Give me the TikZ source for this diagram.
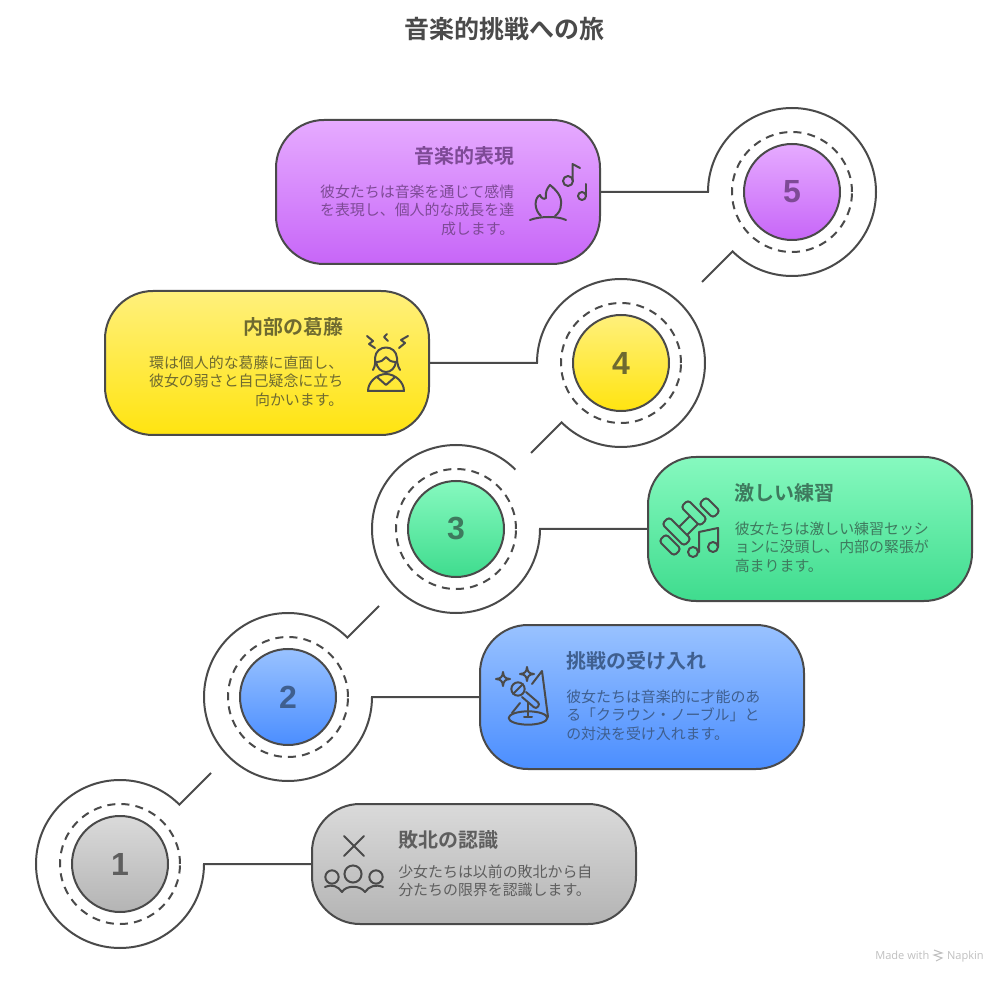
\documentclass[tikz,border=0pt]{standalone}
\usepackage{fontspec}
\setmainfont{Noto Sans CJK JP}[BoldFont={Noto Sans CJK JP Bold}]
\newfontfamily\numfont{Liberation Sans}[BoldFont={Liberation Sans Bold}]
\newfontfamily\napfont{Open Sans}
\definecolor{ink}{HTML}{4A4A4A}
\definecolor{gT}{HTML}{DADADA}\definecolor{gB}{HTML}{B4B4B4}\definecolor{gX}{HTML}{5E5E5E}
\definecolor{bT}{HTML}{99C2FF}\definecolor{bB}{HTML}{4B8EFF}\definecolor{bX}{HTML}{3F5F8F}
\definecolor{tT}{HTML}{86F9BF}\definecolor{tB}{HTML}{3FDC8E}\definecolor{tX}{HTML}{3E7A5E}
\definecolor{yT}{HTML}{FFF07C}\definecolor{yB}{HTML}{FFE410}\definecolor{yX}{HTML}{6E6A30}
\definecolor{pT}{HTML}{E6ABFF}\definecolor{pB}{HTML}{C766F8}\definecolor{pX}{HTML}{7E4A96}
\tikzset{
  x=0.75pt,y=-0.75pt,
  line/.style={draw=ink,line width=1.5pt},
  icon/.style={draw=ink,line width=1.5pt,line cap=round,line join=round},
  card/.style={line,rounded corners=36pt,minimum width=243pt,minimum height=108pt,inner sep=0pt},
  disc/.style={line,circle,minimum size=72pt,inner sep=0pt,font=\numfont\bfseries\fontsize{24}{24}\selectfont},
  ring/.style={line,dashed,dash pattern=on 6pt off 4.6pt,circle,minimum size=90pt,inner sep=0pt},
  ttl/.style={inner sep=0pt,font=\bfseries\fontsize{15}{18}\selectfont},
  body/.style={inner sep=0pt,font=\fontsize{11.2}{13.9}\selectfont},
}
\begin{document}
\begin{tikzpicture}
\useasboundingbox (0,0) rectangle (1008,984);
\node[inner sep=0pt,text=ink,font=\bfseries\fontsize{18.75}{22}\selectfont] (title) at (504.5,29.5) {音楽的挑戦への旅};
% rings
\node[ring] (r1) at (120,864) {};
\node[ring] (r2) at (288,697) {};
\node[ring] (r3) at (456,529) {};
\node[ring] (r4) at (621,363) {};
\node[ring] (r5) at (792,192) {};
% discs
\node[disc,top color=gT,bottom color=gB,text=gX] (c1) at (120,864) {1};
\node[disc,top color=bT,bottom color=bB,text=bX] (c2) at (288,697) {2};
\node[disc,top color=tT,bottom color=tB,text=tX] (c3) at (456,529) {3};
\node[disc,top color=yT,bottom color=yB,text=yX] (c4) at (621,363) {4};
\node[disc,top color=pT,bottom color=pB,text=pX] (c5) at (792,192) {5};
% cards
\node[card,minimum height=90pt,top color=gT,bottom color=gB] (k1) at (474,864) {};
\node[card,top color=bT,bottom color=bB] (k2) at (642,697) {};
\node[card,top color=tT,bottom color=tB] (k3) at (810,529) {};
\node[card,top color=yT,bottom color=yB] (k4) at (267,363) {};
\node[card,top color=pT,bottom color=pB] (k5) at (438,192) {};
% connector corners and free ends
\coordinate (p1) at (204,864); \coordinate (e1) at (211,773);
\coordinate (p2) at (372,697); \coordinate (e2) at (379,606);
\coordinate (p3) at (540,529);
\coordinate (p4) at (537,363); \coordinate (e4) at (531,453);
\coordinate (p5) at (708,192); \coordinate (e5) at (702,282);
\draw[line,line join=miter] (k1.west) -- (p1) arc[start angle=0,end angle=-315,radius=63pt] -- (e1);
\draw[line,line join=miter] (k2.west) -- (p2) arc[start angle=0,end angle=-315,radius=63pt] -- (e2);
\draw[line,line join=miter] (k3.west) -- (p3) arc[start angle=0,end angle=-315,radius=63pt];
\draw[line,line join=miter] (k4.east) -- (p4) arc[start angle=180,end angle=-135,radius=63pt] -- (e4);
\draw[line,line join=miter] (k5.east) -- (p5) arc[start angle=180,end angle=-135,radius=63pt] -- (e5);
% texts
\node[ttl,anchor=west,text=gX] (t1) at (398,840) {敗北の認識};
\node[body,anchor=north west,align=left,text=gX] (b1) at (398,864.5) {少女たちは以前の敗北から自\\分たちの限界を認識します。};
\node[ttl,anchor=west,text=bX] (t2) at (566,661) {挑戦の受け入れ};
\node[body,anchor=north west,align=left,text=bX] (b2) at (566,689.5) {彼女たちは音楽的に才能のあ\\る「クラウン・ノーブル」と\\の対決を受け入れます。};
\node[ttl,anchor=west,text=tX] (t3) at (734.5,493) {激しい練習};
\node[body,anchor=north west,align=left,text=tX] (b3) at (734.5,521.5) {彼女たちは激しい練習セッシ\\ョンに没頭し、内部の緊張が\\高まります。};
\node[ttl,anchor=east,text=yX] (t4) at (343.5,327) {内部の葛藤};
\node[body,anchor=north east,align=right,text=yX] (b4) at (343.5,355.5) {環は個人的な葛藤に直面し、\\彼女の弱さと自己疑念に立ち\\向かいます。};
\node[ttl,anchor=east,text=pX] (t5) at (514.5,156) {音楽的表現};
\node[body,anchor=north east,align=right,text=pX] (b5) at (514.5,184.5) {彼女たちは音楽を通じて感情\\を表現し、個人的な成長を達\\成します。};
% icon 5
\draw[icon] (530,220) .. controls (540,216) and (558,216) .. (566,220);
\draw[icon] (541,216) .. controls (534,210) and (534,198) .. (540,195) .. controls (541,198) and (544,200) .. (546,198) .. controls (545,193) and (547,188) .. (550,185) .. controls (556,190) and (562,196) .. (561,204) .. controls (561,210) and (558,214) .. (555,216);
\draw[icon] (568,181) circle[radius=3.75pt];
\draw[icon] (572.5,181) -- (572.5,164) -- (580,168);
\draw[icon] (582,196) circle[radius=3pt];
\draw[icon] (586,195) -- (586,184);
% icon 4
\draw[icon] (367,336) -- (373,341) -- (369,344) -- (375,348);
\draw[icon] (387,334) -- (384,337) -- (388,341);
\draw[icon] (408,336) -- (401,340) -- (405,343) -- (399,348);
\draw[icon] (373,370) .. controls (376,365) and (375,360) .. (375,358) .. controls (376,344) and (396,344) .. (397,358) .. controls (397,360) and (397,365) .. (400,370);
\draw[icon] (376,362) .. controls (381,362) and (384,360) .. (386,357) .. controls (388,360) and (391,362) .. (396,362);
\draw[icon] (376,362) .. controls (377,368) and (381,372) .. (386,372) .. controls (391,372) and (395,368) .. (396,362);
\draw[icon] (368,391) .. controls (368,382) and (377,374) .. (386,374) .. controls (395,374) and (404,382) .. (404,391) -- cycle;
\draw[icon] (377,377) -- (386,385) -- (395,377);
% icon 3
\draw[icon,rounded corners=2.5pt] (681,507) -- (688,500) -- (707,519) -- (700,526) -- cycle;
\draw[icon,rounded corners=2.5pt] (699,504) -- (706,497) -- (720,511) -- (713,518) -- cycle;
\draw[icon,rounded corners=2.5pt] (662,524) -- (669,517) -- (691,539) -- (684,546) -- cycle;
\draw[icon,rounded corners=2.5pt] (659,541) -- (666,534) -- (681,549) -- (674,556) -- cycle;
\draw[icon] (679,527) -- (690,516);
\draw[icon] (687,535) -- (698,524);
\draw[icon] (693,552) circle[radius=3.75pt];
\draw[icon] (713,547) circle[radius=3.75pt];
\draw[icon] (699,552) -- (699,532) -- (718,528) -- (718,547);
% icon 2
\draw[icon] (503,672) .. controls (503.5,677) and (505,678.5) .. (510,679) .. controls (505,679.5) and (503.5,681) .. (503,686) .. controls (502.5,681) and (501,679.5) .. (496,679) .. controls (501,678.5) and (502.5,677) .. (503,672) -- cycle;
\draw[icon] (527,667) .. controls (527.5,672) and (529,673.5) .. (534,674) .. controls (529,674.5) and (527.5,676) .. (527,681) .. controls (526.5,676) and (525,674.5) .. (520,674) .. controls (525,673.5) and (526.5,672) .. (527,667) -- cycle;
\draw[icon] (518,689) circle[radius=5pt];
\draw[icon] (513,694) -- (523,684);
\draw[icon,rounded corners=2pt] (526,692) -- (540,704) -- (536,709) -- (522,697);
\draw[icon] (528,703) -- (528,717);
\draw[icon] (524,717) -- (532,717);
\draw[icon] (528,718) ellipse[x radius=14.5pt,y radius=5pt];
\draw[icon] (512,713) -- (520,703);
\draw[icon] (548,717) -- (542,671) -- (532,684);
% icon 1
\draw[icon] (344,836) -- (364,856);
\draw[icon] (364,836) -- (344,856);
\draw[icon] (353,874) circle[radius=6.4pt];
\draw[icon] (332,877) circle[radius=5pt];
\draw[icon] (376,877) circle[radius=5pt];
\draw[icon] (325,887) .. controls (332,884) and (338,886) .. (342,892) .. controls (346,885) and (360,885) .. (365,892) .. controls (369,886) and (376,884) .. (383,887);
% badge
\node[inner sep=0pt,anchor=base west,text=black!25,font=\napfont\fontsize{8.3}{10}\selectfont] (m) at (875,959) {Made with};
\node[inner sep=0pt,anchor=base east,text=black!25,font=\napfont\fontsize{8.3}{10}\selectfont] (n) at (984,959) {Napkin};
\draw[black!25,line width=0.8pt] (934,950) -- (942,953) -- (934,955) -- (942,958) -- (936,961);
\end{tikzpicture}
\end{document}
